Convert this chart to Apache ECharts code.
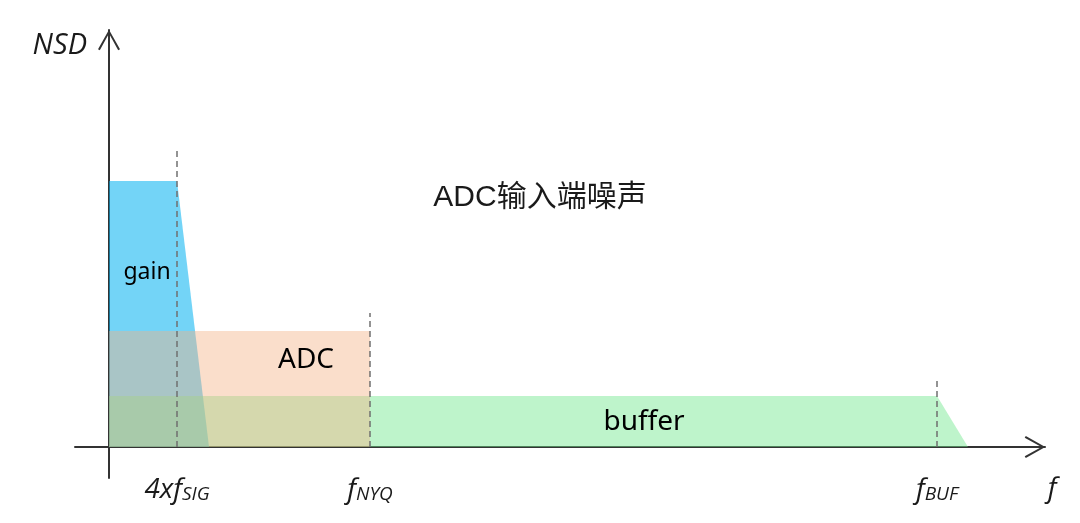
<!DOCTYPE html>
<html>
<head>
<meta charset="utf-8">
<script src="https://cdn.jsdelivr.net/npm/echarts@6/dist/echarts.min.js"></script>
<style>
  html, body { margin: 0; padding: 0; background: #fff; }
  #chart { width: 1080px; height: 523px; }
</style>
</head>
<body>
<div id="chart"></div>
<script>
// frequency marks (arbitrary units along f)
var markNames = ["4xfSIG", "fNYQ", "fBUF"];
var markX = [68, 261, 828];
var markTop = [297, 134, 67];

// noise density outlines [f, NSD]
var gainData = [[0, 266], [68, 266], [100, 0]];
var adcData = [[0, 116], [261, 116], [261, 0]];
var bufferData = [[0, 51], [828, 51], [859, 0]];

// text inside the regions
var regionLabels = [
  { name: "gain", value: [38, 175], label: { fontSize: 23 } },
  { name: "ADC", value: [197, 87] },
  { name: "buffer", value: [535, 25] }
];

var chevron = "path://M0,19.5 L11,0 L22,19.5 L20.2,20.6 L11,3.8 L1.8,20.6 Z";

var chart = echarts.init(document.getElementById("chart"));

var dashSeries = markX.map(function (x, i) {
  return {
    name: markNames[i],
    type: "line",
    data: [[x, 0], [x, markTop[i]]],
    symbol: "none",
    silent: true,
    z: 5,
    lineStyle: { color: "#6f6f6f", width: 1.5, type: [6, 4] }
  };
});

var italic = { fontFamily: "'Open Sans', sans-serif", fontStyle: "italic", color: "#1a1a1a" };

var option = {
  animation: false,
  title: {
    text: "ADC输入端噪声",
    left: "center",
    top: 178,
    textStyle: {
      fontFamily: "'Liberation Sans', 'Noto Sans CJK SC', sans-serif",
      fontSize: 30,
      fontWeight: "normal",
      color: "#1a1a1a"
    }
  },
  grid: { left: 75, right: 35, top: 30, bottom: 45, outerBoundsMode: "none", containLabel: false },
  xAxis: {
    type: "value",
    min: -34,
    max: 936,
    splitLine: { show: false },
    axisTick: { show: false },
    axisLine: {
      onZero: true,
      symbol: ["none", chevron],
      symbolSize: [22, 21],
      symbolOffset: [0, -10],
      lineStyle: { color: "#333", width: 2 }
    },
    axisLabel: {
      customValues: [68, 261, 828, 936],
      margin: -4,
      formatter: function (v) {
        if (v === 68) return "{m|4xf}{s|SIG}";
        if (v === 261) return "{m|f}{s|NYQ}";
        if (v === 828) return "{m|f}{s|BUF}";
        return "{e|f}";
      },
      rich: {
        m: Object.assign({ fontSize: 28, lineHeight: 30, verticalAlign: "bottom" }, italic),
        s: Object.assign({ fontSize: 19, lineHeight: 24, verticalAlign: "bottom" }, italic),
        e: Object.assign({ fontSize: 28, lineHeight: 30, padding: [0, 0, 0, 14] }, italic)
      }
    }
  },
  yAxis: {
    type: "value",
    min: -31,
    max: 417,
    name: "NSD",
    nameLocation: "end",
    nameGap: -16,
    nameTextStyle: Object.assign({
      fontSize: 29,
      align: "right",
      verticalAlign: "middle",
      padding: [0, 22, 0, 0]
    }, italic),
    splitLine: { show: false },
    axisTick: { show: false },
    axisLabel: { show: false },
    axisLine: {
      onZero: true,
      symbol: ["none", chevron],
      symbolSize: [22, 21],
      symbolOffset: [0, -10],
      lineStyle: { color: "#333", width: 2 }
    }
  },
  series: [
    {
      name: "gain",
      type: "line",
      data: gainData,
      symbol: "none",
      lineStyle: { width: 0 },
      areaStyle: { color: "rgba(0,176,240,0.55)", opacity: 1 },
      z: 1
    },
    {
      name: "buffer",
      type: "line",
      data: bufferData,
      symbol: "none",
      lineStyle: { width: 0 },
      areaStyle: { color: "rgba(110,230,140,0.45)", opacity: 1 },
      z: 2
    },
    {
      name: "ADC",
      type: "line",
      data: adcData,
      symbol: "none",
      lineStyle: { width: 0 },
      areaStyle: { color: "rgba(244,176,131,0.42)", opacity: 1 },
      z: 3
    }
  ].concat(dashSeries).concat([
    {
      name: "labels",
      type: "scatter",
      data: regionLabels,
      symbolSize: 0,
      silent: true,
      z: 10,
      itemStyle: { opacity: 1 },
      label: {
        show: true,
        position: "inside",
        formatter: "{b}",
        fontFamily: "'Noto Sans', sans-serif",
        fontSize: 28,
        color: "#000",
        opacity: 1,
        textBorderWidth: 0
      }
    }
  ])
};

chart.setOption(option);
</script>
</body>
</html>
